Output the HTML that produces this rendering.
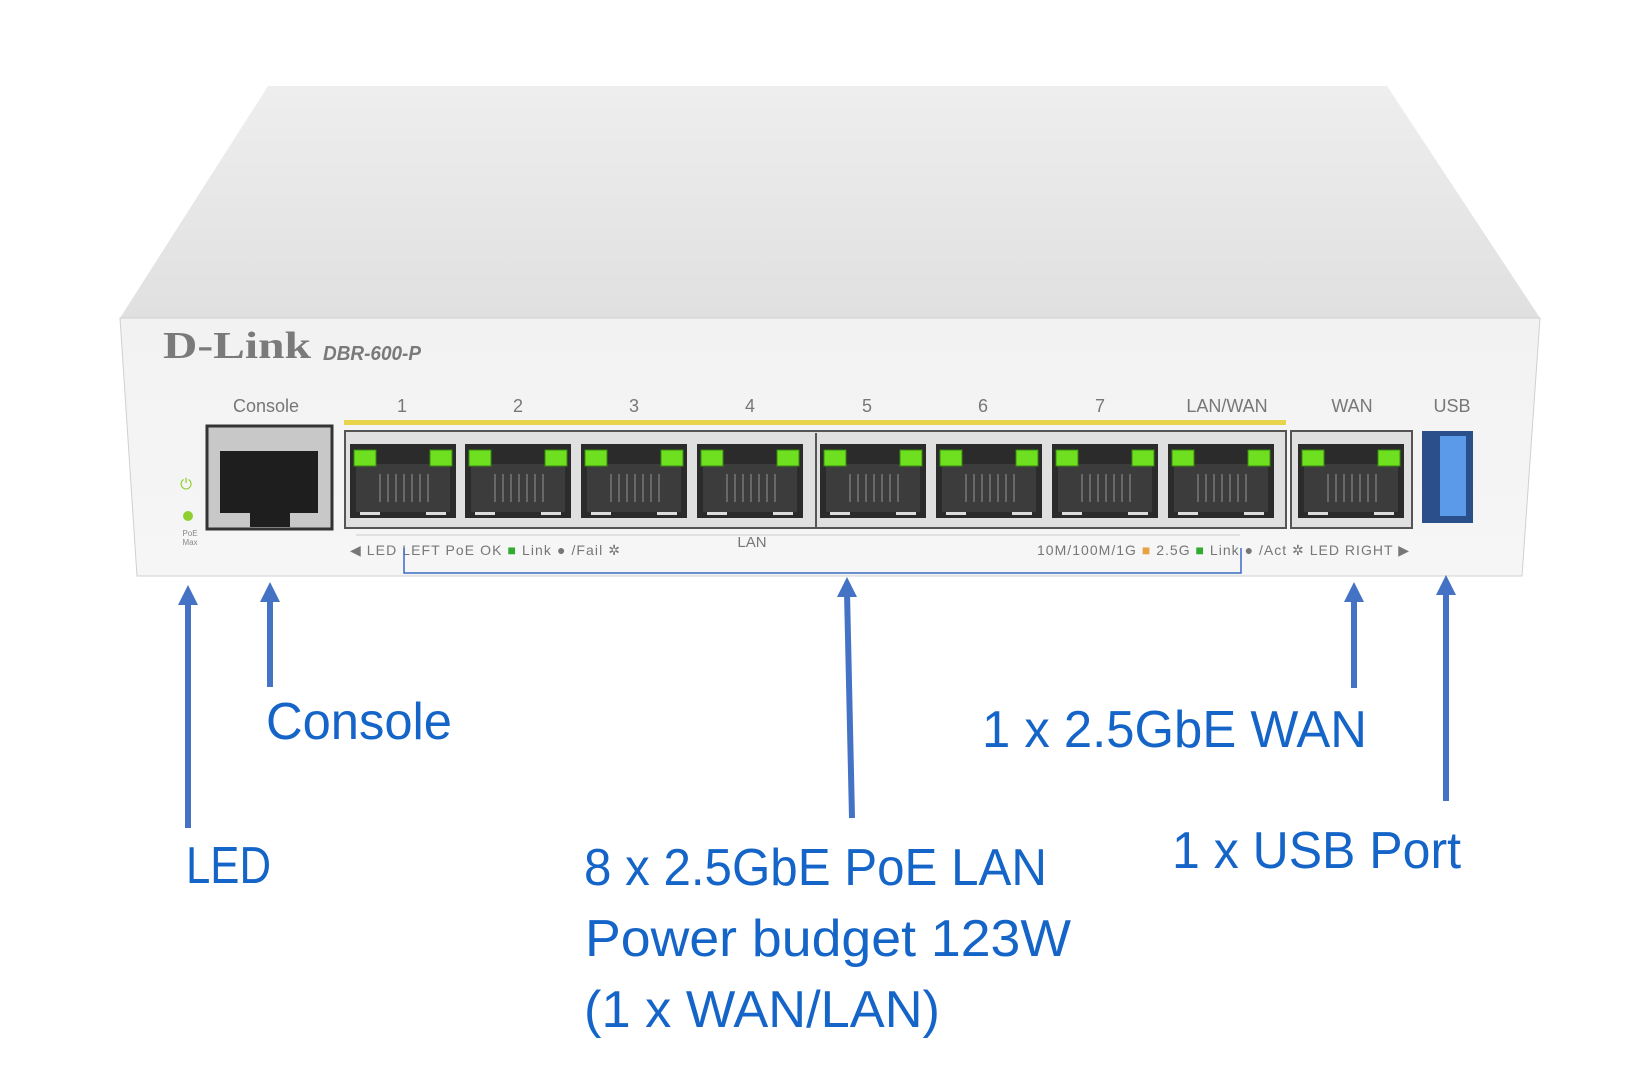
<!DOCTYPE html>
<html><head><meta charset="utf-8"><style>
html,body{margin:0;padding:0;background:#fff;}
svg{display:block;}
</style></head><body>
<svg width="1641" height="1080" viewBox="0 0 1641 1080" xmlns="http://www.w3.org/2000/svg" font-family="Liberation Sans, sans-serif">
<defs>
<linearGradient id="top" x1="0" y1="0" x2="0" y2="1"><stop offset="0" stop-color="#eeeeee"/><stop offset="1" stop-color="#e0e0e0"/></linearGradient>
<linearGradient id="front" x1="0" y1="0" x2="0" y2="1"><stop offset="0" stop-color="#f2f2f2"/><stop offset="1" stop-color="#f6f6f6"/></linearGradient>
<g id="jack">
<rect x="0" y="0" width="106" height="74" fill="#2b2b2b"/>
<rect x="6" y="20" width="94" height="48" fill="#3c3c3c"/>
<g stroke="#777" stroke-width="1.5">
<line x1="30" y1="30" x2="30" y2="58"/><line x1="38" y1="30" x2="38" y2="58"/><line x1="46" y1="30" x2="46" y2="58"/><line x1="54" y1="30" x2="54" y2="58"/><line x1="62" y1="30" x2="62" y2="58"/><line x1="70" y1="30" x2="70" y2="58"/><line x1="78" y1="30" x2="78" y2="58"/>
</g>
<rect x="10" y="68" width="20" height="3" fill="#ddd"/><rect x="76" y="68" width="20" height="3" fill="#ddd"/>
<rect x="4" y="6" width="22" height="16" fill="#6fe020" stroke="#3a8a10" stroke-width="1"/>
<rect x="80" y="6" width="22" height="16" fill="#6fe020" stroke="#3a8a10" stroke-width="1"/>
</g>
</defs>
<polygon points="268,86 1387,86 1540,318 120,318" fill="url(#top)"/>
<polygon points="120,318 1540,318 1522,576 137,576" fill="url(#front)" stroke="#d0d0d0" stroke-width="1"/>
<text x="163" y="358" font-family="Liberation Serif, serif" font-weight="bold" font-size="38" fill="#7a7a7a" textLength="148" lengthAdjust="spacingAndGlyphs">D-Link</text>
<text x="323" y="360" font-style="italic" font-weight="bold" font-size="20" fill="#7a7a7a" textLength="98" lengthAdjust="spacingAndGlyphs">DBR-600-P</text>
<g font-size="18" fill="#777" text-anchor="middle">
<text x="266" y="412">Console</text>
<text x="402" y="412">1</text><text x="518" y="412">2</text><text x="634" y="412">3</text><text x="750" y="412">4</text>
<text x="867" y="412">5</text><text x="983" y="412">6</text><text x="1100" y="412">7</text><text x="1227" y="412">LAN/WAN</text>
<text x="1352" y="412">WAN</text><text x="1452" y="412">USB</text>
</g>
<rect x="344" y="420" width="942" height="5" fill="#e8d44a"/>
<rect x="207" y="426" width="125" height="103" fill="#c8c8c8" stroke="#333" stroke-width="3"/>
<rect x="220" y="451" width="98" height="62" fill="#1e1e1e"/>
<rect x="250" y="513" width="40" height="14" fill="#1e1e1e"/>
<text x="186" y="489" font-size="15" fill="#8fcf30" text-anchor="middle">⏻</text>
<circle cx="188" cy="516" r="5" fill="#8fd030"/>
<text x="190" y="536" font-size="8" fill="#888" text-anchor="middle">PoE</text>
<text x="190" y="545" font-size="8" fill="#888" text-anchor="middle">Max</text>
<rect x="345" y="431" width="941" height="97" fill="#e0e0e0" stroke="#555" stroke-width="2"/>
<line x1="816" y1="433" x2="816" y2="527" stroke="#555" stroke-width="2"/>
<use href="#jack" x="350" y="444"/><use href="#jack" x="465" y="444"/><use href="#jack" x="581" y="444"/><use href="#jack" x="697" y="444"/>
<use href="#jack" x="820" y="444"/><use href="#jack" x="936" y="444"/><use href="#jack" x="1052" y="444"/><use href="#jack" x="1168" y="444"/>
<rect x="1291" y="431" width="121" height="97" fill="#e0e0e0" stroke="#555" stroke-width="2"/>
<use href="#jack" x="1298" y="444"/>
<rect x="1422" y="431" width="51" height="92" fill="#2a4f8a"/>
<rect x="1440" y="436" width="26" height="80" fill="#5a9ae8"/>
<line x1="356" y1="535" x2="1240" y2="535" stroke="#ccc" stroke-width="1"/>
<text x="752" y="547" font-size="15" fill="#777" text-anchor="middle">LAN</text>
<g font-size="14" fill="#777">
<text x="350" y="555" textLength="270" lengthAdjust="spacing">◀ LED LEFT   PoE OK <tspan fill="#3a3">■</tspan>  Link ●  /Fail ✲</text>
<text x="1037" y="555" textLength="372" lengthAdjust="spacing">10M/100M/1G <tspan fill="#e8a040">■</tspan>  2.5G <tspan fill="#3a3">■</tspan>    Link ●  /Act ✲  LED RIGHT ▶</text>
</g>
<polyline points="404,548 404,573 1241,573 1241,548" fill="none" stroke="#3a6bc4" stroke-width="1.5"/>
<g stroke="#4472c4" stroke-width="6" fill="none">
<line x1="188" y1="828" x2="188" y2="600"/>
<line x1="270" y1="687" x2="270" y2="596"/>
<line x1="852" y1="818" x2="847" y2="592"/>
<line x1="1354" y1="688" x2="1354" y2="596"/>
<line x1="1446" y1="801" x2="1446" y2="590"/>
</g>
<g fill="#4472c4">
<polygon points="188,585 178,605 198,605"/>
<polygon points="270,582 260,602 280,602"/>
<polygon points="847,577 837,597 857,597"/>
<polygon points="1354,582 1344,602 1364,602"/>
<polygon points="1446,575 1436,595 1456,595"/>
</g>
<g fill="#1565c8" font-size="52">
<text x="266" y="739" textLength="186" lengthAdjust="spacingAndGlyphs">Console</text>
<text x="186" y="883" textLength="85" lengthAdjust="spacingAndGlyphs">LED</text>
<text x="982" y="747" textLength="385" lengthAdjust="spacingAndGlyphs">1 x 2.5GbE WAN</text>
<text x="1172" y="868" textLength="289" lengthAdjust="spacingAndGlyphs">1 x USB Port</text>
<text x="584" y="885" textLength="463" lengthAdjust="spacingAndGlyphs">8 x 2.5GbE PoE LAN</text>
<text x="585" y="956" textLength="486" lengthAdjust="spacingAndGlyphs">Power budget 123W</text>
<text x="584" y="1027" textLength="356" lengthAdjust="spacingAndGlyphs">(1 x WAN/LAN)</text>
</g>
</svg>
</body></html>
